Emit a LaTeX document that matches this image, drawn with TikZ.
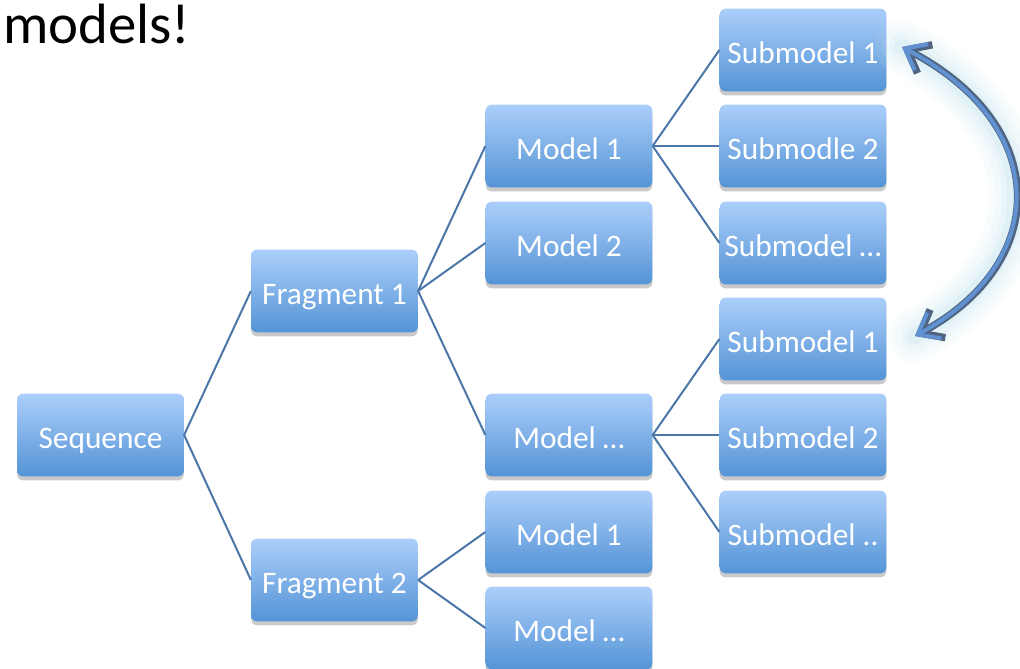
\documentclass[tikz,border=0pt]{standalone}
\usepackage{fontspec}
\setmainfont{Carlito}
\usetikzlibrary{shadows,arrows.meta}
\definecolor{boxtop}{RGB}{172,206,250}
\definecolor{boxbot}{RGB}{84,148,214}
\definecolor{linkc}{RGB}{74,118,168}
\definecolor{arrin}{RGB}{96,146,210}
\definecolor{arrout}{RGB}{80,100,130}
\definecolor{glowc}{RGB}{200,230,240}
\tikzset{
  box/.style={rounded corners=4.5pt, minimum width=125pt, minimum height=62pt,
    top color=boxtop, bottom color=boxbot, text=white, inner sep=0pt,
    text height=19.5pt, text depth=0pt,
    font=\fontsize{23.5}{28}\selectfont,
    drop shadow={shadow xshift=0pt, shadow yshift=-3pt, opacity=0.35, fill=black!60}},
  link/.style={draw=linkc, line width=1.5pt}
}
\begin{document}
\begin{tikzpicture}[x=0.75pt,y=-0.75pt]
\useasboundingbox (0,0) rectangle (1020,668);
\node[anchor=base west, inner sep=0pt, font=\fontsize{42.6}{50}\selectfont] (title) at (3,43) {models!};
% column 0
\node[box] (seq) at (100.5,435) {Sequence};
% column 1
\node[box] (f1) at (334.5,291) {Fragment 1};
\node[box] (f2) at (334.5,580) {Fragment 2};
% column 2
\node[box] (m1) at (569,146) {Model 1};
\node[box] (m2) at (569,243) {Model 2};
\node[box] (m3) at (569,435) {Model …};
\node[box] (m4) at (569,532) {Model 1};
\node[box] (m5) at (569,628) {Model …};
% column 3
\node[box] (s1) at (803,50) {Submodel 1};
\node[box] (s2) at (803,146) {Submodle 2};
\node[box] (s3) at (803,243) {Submodel …};
\node[box] (s4) at (803,339) {Submodel 1};
\node[box] (s5) at (803,435) {Submodel 2};
\node[box] (s6) at (803,532) {Submodel ..};
% connectors
\draw[link] (seq.east) -- (f1.west);
\draw[link] (seq.east) -- (f2.west);
\draw[link] (f1.east) -- (m1.west);
\draw[link] (f1.east) -- (m2.west);
\draw[link] (f1.east) -- (m3.west);
\draw[link] (f2.east) -- (m4.west);
\draw[link] (f2.east) -- (m5.west);
\draw[link] (m1.east) -- (s1.west);
\draw[link] (m1.east) -- (s2.west);
\draw[link] (m1.east) -- (s3.west);
\draw[link] (m3.east) -- (s4.west);
\draw[link] (m3.east) -- (s5.west);
\draw[link] (m3.east) -- (s6.west);
% curved double arrow
\coordinate (atop) at (902,47);
\coordinate (abot) at (915,336);
\foreach \w/\o in {40/0.1,30/0.15,20/0.2,12/0.3}{
  \draw[glowc, line width=\w pt, opacity=\o, line cap=round]
    (atop) .. controls (1051,125) and (1051,262) .. (abot);
}
\draw[arrout, line width=5.5pt, line cap=round, line join=round,
  arrows={Straight Barb[length=15pt,width=24pt]-Straight Barb[length=15pt,width=24pt]}]
  (atop) .. controls (1051,125) and (1051,262) .. (abot);
\draw[arrin, line width=3pt, line cap=round, line join=round,
  arrows={Straight Barb[length=14pt,width=22pt]-Straight Barb[length=14pt,width=22pt]}]
  (atop) .. controls (1051,125) and (1051,262) .. (abot);
\end{tikzpicture}
\end{document}
